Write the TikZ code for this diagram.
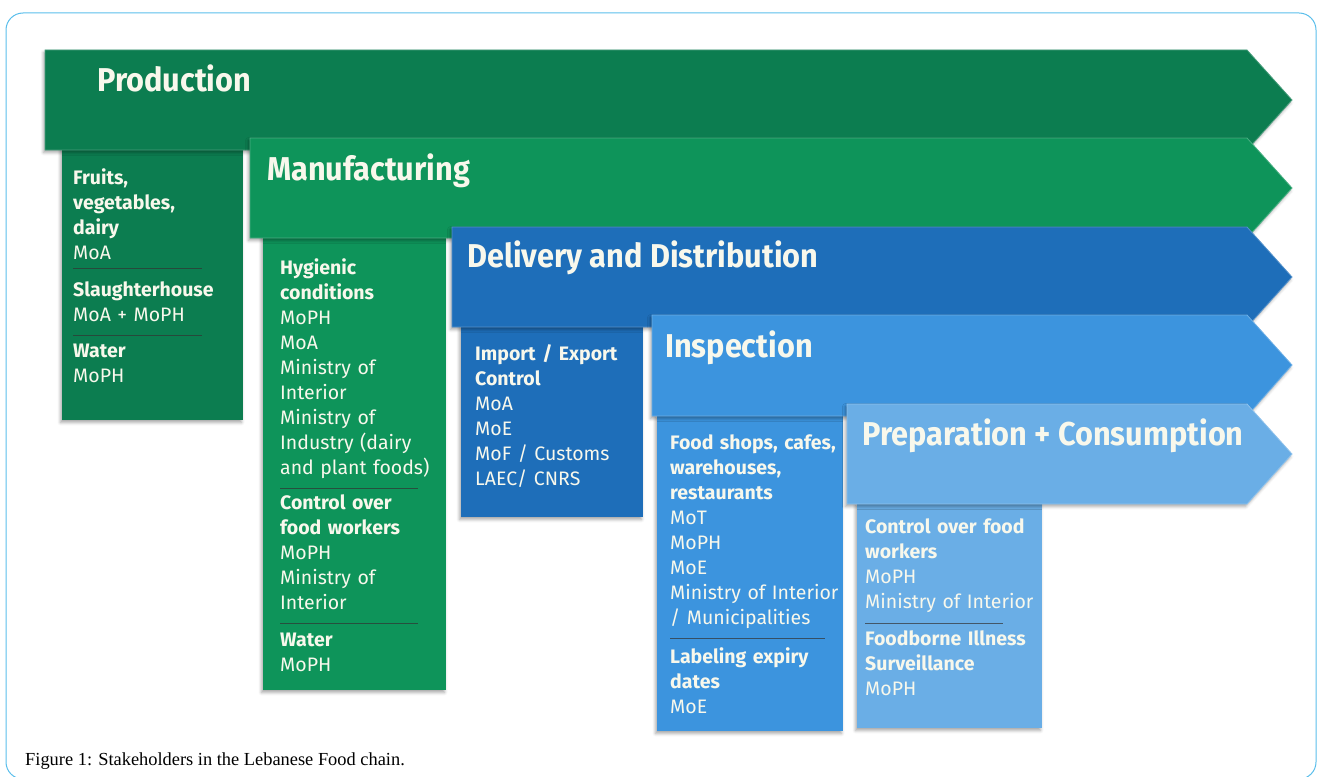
\documentclass[tikz,border=0pt]{standalone}
\usepackage{fontspec}
\setmainfont{Fira Sans}
\newfontfamily\headfont{Fira Sans}[FakeStretch=0.93]
\newfontfamily\capfont{Liberation Serif}
\usetikzlibrary{shadows.blur}

\definecolor{prodgreen}{RGB}{12,125,80}
\definecolor{mangreen}{RGB}{14,148,90}
\definecolor{delblue}{RGB}{30,110,185}
\definecolor{insblue}{RGB}{60,148,222}
\definecolor{prepblue}{RGB}{106,174,230}
\definecolor{framecol}{RGB}{90,190,235}
\definecolor{lighttxt}{RGB}{248,248,236}

\tikzset{
  softshadow/.style={blur shadow={shadow xshift=-1.5pt, shadow yshift=-2.5pt,
      shadow blur radius=3pt, shadow opacity=35}},
  banner/.style={softshadow, draw=#1!75!white, line width=0.8pt, fill=#1},
  panel/.style={softshadow, fill=#1},
  head/.style={font=\headfont\fontsize{33}{36}\selectfont\bfseries, text=lighttxt,
      anchor=base west, inner sep=0pt},
  body/.style={font=\fontsize{19.5}{25}\selectfont, text=lighttxt, align=left,
      text width=190pt, anchor=base west, inner sep=0pt},
  rule/.style={draw=black!80, line width=0.8pt, opacity=0.7},
}

\begin{document}
\begin{tikzpicture}[x=1pt, y=-1pt]
\useasboundingbox (0,0) rectangle (1319,776);

% page frame
\draw[framecol, line width=1pt, rounded corners=17pt] (6,13) rectangle (1316,779);

% ---- Production ----
\fill[panel=prodgreen] (62,148) rectangle (243,420);
\path[banner=prodgreen] (45,50) -- (1247,50) -- (1292,100) -- (1247,150) -- (45,150) -- cycle;
\node[head] (hprod) at (97,92) {Production};
\node[body] (p1) at (73,184) {\textbf{Fruits,}\\\textbf{vegetables,}\\\textbf{dairy}\\MoA};
\node[body] (p2) at (73,296) {\textbf{Slaughterhouse}\\MoA + MoPH};
\node[body] (p3) at (73,357) {\textbf{Water}\\MoPH};
\draw[rule] (73,268) -- (202,268);
\draw[rule] (73,335) -- (202,335);

% ---- Manufacturing ----
\fill[panel=mangreen] (263,236) rectangle (446,690);
\path[banner=mangreen] (250,138) -- (1247,138) -- (1292,188) -- (1247,238) -- (250,238) -- cycle;
\node[head] (hman) at (267,180) {Manufacturing};
\node[body] (m1) at (280,274) {\textbf{Hygienic}\\\textbf{conditions}\\MoPH\\MoA\\Ministry of\\Interior\\Ministry of\\Industry (dairy\\and plant foods)};
\node[body] (m2) at (280,509) {\textbf{Control over}\\\textbf{food workers}\\MoPH\\Ministry of\\Interior};
\node[body] (m3) at (280,646) {\textbf{Water}\\MoPH};
\draw[rule] (280,488) -- (418,488);
\draw[rule] (280,623) -- (418,623);

% ---- Delivery and Distribution ----
\fill[panel=delblue] (461,325) rectangle (643,517);
\path[banner=delblue] (452,227) -- (1247,227) -- (1292,277) -- (1247,327) -- (452,327) -- cycle;
\node[head] (hdel) at (467,267) {Delivery and Distribution};
\node[body] (d1) at (475,360) {\textbf{Import / Export}\\\textbf{Control}\\MoA\\MoE\\MoF / Customs\\LAEC/ CNRS};

% ---- Inspection ----
\fill[panel=insblue] (657,415) rectangle (843,731);
\path[banner=insblue] (652,315) -- (1247,315) -- (1292,365) -- (1247,416) -- (652,416) -- cycle;
\node[head] (hins) at (665,357) {Inspection};
\node[body] (i1) at (670,449) {\textbf{Food shops, cafes,}\\\textbf{warehouses,}\\\textbf{restaurants}\\MoT\\MoPH\\MoE\\Ministry of Interior\\/ Municipalities};
\node[body] (i2) at (670,663) {\textbf{Labeling expiry}\\\textbf{dates}\\MoE};
\draw[rule] (670,638) -- (825,638);

% ---- Preparation + Consumption ----
\fill[panel=prepblue] (857,503) rectangle (1042,728);
\path[banner=prepblue] (847,404) -- (1247,404) -- (1292,454) -- (1247,504) -- (847,504) -- cycle;
\node[head] (hprep) at (862,445) {Preparation + Consumption};
\node[body] (c1) at (865,533) {\textbf{Control over food}\\\textbf{workers}\\MoPH\\Ministry of Interior};
\node[body] (c2) at (865,645) {\textbf{Foodborne Illness}\\\textbf{Surveillance}\\MoPH};
\draw[rule] (865,623) -- (1003,623);

% caption
\node[anchor=base west, inner sep=0pt, font=\capfont\fontsize{18.4}{22}\selectfont] (cap) at (25,765)
  {Figure 1: Stakeholders in the Lebanese Food chain.};
\end{tikzpicture}
\end{document}
